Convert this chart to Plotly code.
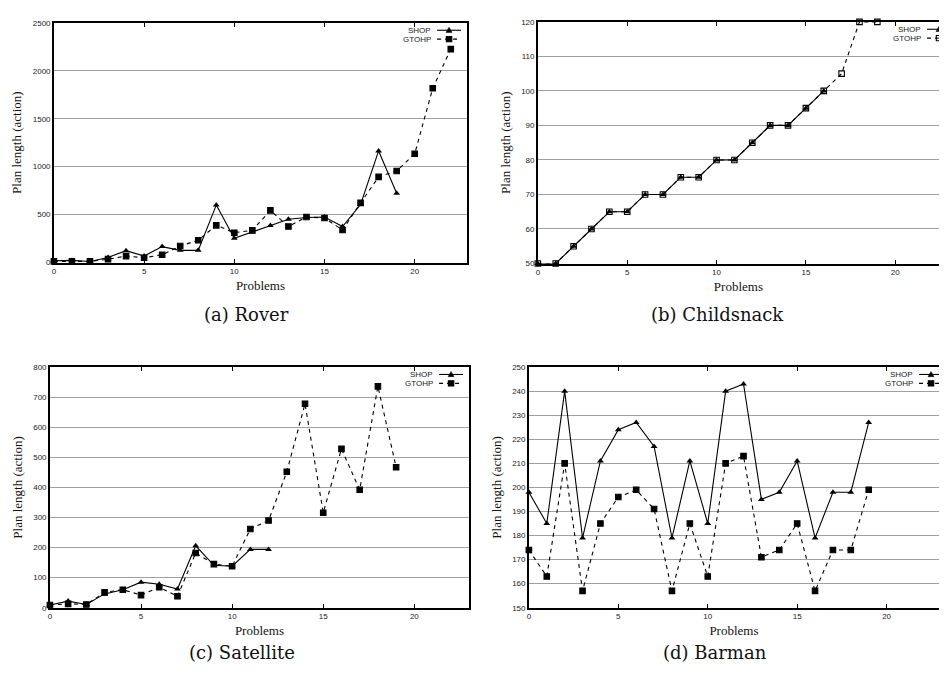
import plotly.graph_objects as go

# ---------------- data ----------------
problems_rover_shop = list(range(0, 20))
rover_shop = [18, 22, 10, 53, 124, 67, 166, 127, 127, 599, 253, 321, 387, 452, 470, 475, 376, 605, 1164, 722]
problems_rover_gtohp = list(range(0, 23))
rover_gtohp = [12, 12, 12, 35, 67, 50, 81, 172, 233, 388, 311, 335, 544, 376, 475, 465, 339, 622, 893, 955, 1134, 1818, 2226]

problems_child_shop = list(range(0, 17))
child_shop = [50, 50, 55, 60, 65, 65, 70, 70, 75, 75, 80, 80, 85, 90, 90, 95, 100]
problems_child_gtohp = list(range(0, 20))
child_gtohp = [50, 50, 55, 60, 65, 65, 70, 70, 75, 75, 80, 80, 85, 90, 90, 95, 100, 105, 120, 120]

problems_sat_shop = list(range(0, 13))
sat_shop = [9, 22, 11, 46, 60, 85, 78, 62, 206, 141, 138, 194, 194]
problems_sat_gtohp = list(range(0, 20))
sat_gtohp = [9, 13, 11, 51, 60, 42, 68, 38, 182, 145, 138, 262, 290, 452, 678, 316, 528, 392, 736, 467]

problems_barman = list(range(0, 20))
barman_shop = [198, 185, 240, 179, 211, 224, 227, 217, 179, 211, 185, 240, 243, 195, 198, 211, 179, 198, 198, 227]
barman_gtohp = [174, 163, 210, 157, 185, 196, 199, 191, 157, 185, 163, 210, 213, 171, 174, 185, 157, 174, 174, 199]

x_ticks = [0, 5, 10, 15, 20]
series_names = ["SHOP", "GTOHP"]
captions = ["(a) Rover", "(b) Childsnack", "(c) Satellite", "(d) Barman"]

# page has an 8px body margin; figure sized to fit the 947x674 window
OFF = 8
W, H = 947 - 2 * OFF, 674 - 2 * OFF


def px(v):
    return (v - OFF) / W


def py(v):
    return 1 - (v - OFF) / H


fig = go.Figure()

panels = [
    # (axis suffix, shop x, shop y, gtohp x, gtohp y, yrange, dtick, xrange, x px (left,right,virtual right), y px (top,bottom), gtohp symbol, left panel?)
    ("", problems_rover_shop, rover_shop, problems_rover_gtohp, rover_gtohp, [0, 2500], 500, [0, 22.9], (52, 466, 466), (19, 262), "square", True),
    ("2", problems_child_shop, child_shop, problems_child_gtohp, child_gtohp, [50, 120], 10, [0, 22.45], (537, 947, 957), (18, 263), "square-open", False),
    ("3", problems_sat_shop, sat_shop, problems_sat_gtohp, sat_gtohp, [0, 800], 100, [0, 23], (48, 468, 468), (368, 612), "square", True),
    ("4", problems_barman, barman_shop, problems_barman, barman_gtohp, [150, 250], 10, [0, 22.93], (528, 947, 949), (368, 612), "square", False),
]

tick_font = dict(family="Liberation Sans, Arial, sans-serif", size=8, color="#222")
title_font = dict(family="Liberation Serif, Times New Roman, serif", size=13, color="#111")
legend_font = dict(family="Liberation Sans, Arial, sans-serif", size=8, color="#222")

layout = dict(
    width=W, height=H,
    margin=dict(l=0, r=0, t=0, b=0),
    paper_bgcolor="white", plot_bgcolor="white",
    showlegend=False,
)

shapes = []
annotations = []

for i, (s, xs, ys, xg, yg, yr, dt, xr, xd, yd, gsym, left) in enumerate(panels):
    xa = "x" + s
    ya = "y" + s
    fig.add_trace(go.Scatter(
        x=xs, y=ys, xaxis=xa, yaxis=ya, name=series_names[0],
        mode="lines+markers",
        line=dict(color="black", width=1.1),
        marker=dict(symbol="triangle-up", size=6, color="black"),
        cliponaxis=False,
    ))
    fig.add_trace(go.Scatter(
        x=xg, y=yg, xaxis=xa, yaxis=ya, name=series_names[1],
        mode="lines+markers",
        line=dict(color="black", width=1.1, dash="4px,4px"),
        marker=dict(symbol=gsym, size=5.5, color="black", line=dict(color="black", width=1.1)),
        cliponaxis=False,
    ))
    layout["xaxis" + s] = dict(
        domain=[px(xd[0]), min(1.0, px(xd[1]))], range=xr, anchor=ya,
        tickvals=x_ticks, ticks="inside", ticklen=4, tickcolor="black",
        showline=True, linecolor="black", linewidth=1.5, mirror="allticks",
        showgrid=False, zeroline=False, tickfont=tick_font,
        title=dict(text="Problems", font=title_font, standoff=6),
    )
    layout["yaxis" + s] = dict(
        domain=[py(yd[1]), py(yd[0])], range=yr, anchor=xa,
        dtick=dt, ticks="", showline=True, linecolor="black", linewidth=1.5,
        mirror=True if left else False,
        showgrid=True, gridcolor="#a0a0a0", gridwidth=1, zeroline=False,
        tickfont=tick_font,
        title=dict(text="Plan length (action)", font=title_font, standoff=8),
    )

    # ---- gnuplot-style key: text, then line sample with marker ----
    R = xd[2]
    T = yd[0]
    for k, (name, dash) in enumerate(zip(series_names, ["solid", "dash"])):
        yy = T + 7.5 + 9 * k
        annotations.append(dict(
            text=name, x=px(R - 34), y=py(yy), xref="paper", yref="paper",
            showarrow=False, xanchor="right", yanchor="middle", font=legend_font,
        ))
        if dash == "solid":
            shapes.append(dict(type="line", xref="paper", yref="paper",
                               x0=px(R - 30), x1=px(R - 6), y0=py(yy), y1=py(yy),
                               line=dict(color="black", width=1.1)))
            mx, my = R - 18, yy
            path = "M {} {} L {} {} L {} {} Z".format(
                px(mx - 3), py(my + 2.2), px(mx + 3), py(my + 2.2), px(mx), py(my - 3))
            shapes.append(dict(type="path", xref="paper", yref="paper", path=path,
                               fillcolor="black", line=dict(color="black", width=0.5)))
        else:
            shapes.append(dict(type="line", xref="paper", yref="paper",
                               x0=px(R - 30), x1=px(R - 6), y0=py(yy), y1=py(yy),
                               line=dict(color="black", width=1.1, dash="4px,4px")))
            mx, my = R - 18, yy
            open_sq = gsym.endswith("open")
            shapes.append(dict(type="rect", xref="paper", yref="paper",
                               x0=px(mx - 2.7), x1=px(mx + 2.7), y0=py(my + 2.7), y1=py(my - 2.7),
                               fillcolor="white" if open_sq else "black",
                               line=dict(color="black", width=1.1)))
            if open_sq:
                shapes.append(dict(type="line", xref="paper", yref="paper",
                                   x0=px(mx - 2.7), x1=px(mx + 2.7), y0=py(my), y1=py(my),
                                   line=dict(color="black", width=1.0)))

cap_pos = [(245, 315), (717, 315), (240, 657), (715, 657)]
for txt, (cx, cy) in zip(captions, cap_pos):
    annotations.append(dict(
        text=txt, x=px(cx), y=py(cy), xref="paper", yref="paper",
        showarrow=False, xanchor="center", yanchor="middle",
        font=dict(family="DejaVu Serif, Liberation Serif, serif", size=18, color="#111"),
    ))

layout["annotations"] = annotations
layout["shapes"] = shapes

fig.update_layout(**layout)
fig.write_html("out.html")
